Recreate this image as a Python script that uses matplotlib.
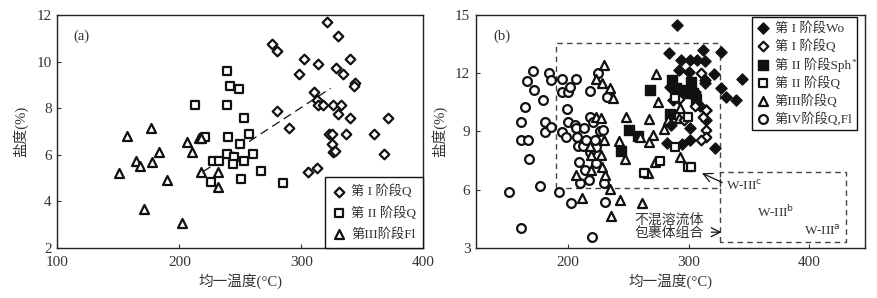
"""Salinity vs homogenization temperature, panels (a) and (b)."""

import matplotlib.pyplot as plt

plt.rcParams["font.family"] = ["Liberation Serif", "Noto Sans CJK SC"]
plt.rcParams["text.color"] = "#333333"
plt.rcParams["axes.labelcolor"] = "#333333"
plt.rcParams["xtick.color"] = "#333333"
plt.rcParams["ytick.color"] = "#333333"

# ---------------- panel (a) data ----------------
a_s1_q_t = [320.7, 330.3, 275.7, 280.3, 302.2, 339.9, 313.4, 298.1, 328.1, 334.4,
            344.0, 343.2, 310.4, 312.6, 313.9, 318.0, 326.2, 332.2, 280.3, 330.3,
            339.9, 370.7, 290.2, 322.9, 324.8, 336.8, 359.8, 325.4, 326.2, 327.6,
            368.0, 305.2, 312.6]
a_s1_q_s = [11.70, 11.10, 10.74, 10.47, 10.11, 10.11, 9.88, 9.48, 9.72, 9.48,
            9.09, 8.95, 8.69, 8.35, 8.13, 8.13, 8.13, 8.13, 7.87, 7.73,
            7.59, 7.59, 7.16, 6.87, 6.87, 6.87, 6.87, 6.44, 6.13, 6.15,
            6.01, 5.25, 5.41]

a_s2_q_t = [238.8, 241.5, 249.2, 213.1, 238.8, 253.3, 221.0, 239.9, 256.8, 249.7,
            238.8, 245.1, 260.6, 227.9, 232.3, 243.7, 253.0, 267.2, 226.2, 250.8,
            284.7]
a_s2_q_s = [9.59, 8.95, 8.80, 8.13, 8.13, 7.59, 6.77, 6.77, 6.89, 6.46,
            6.02, 5.88, 6.02, 5.72, 5.72, 5.58, 5.72, 5.29, 4.81, 4.95,
            4.79]

a_s3_fl_t = [150.8, 156.8, 164.5, 167.8, 171.1, 176.8, 177.7, 183.3, 189.6, 202.4,
             206.5, 210.1, 216.4, 218.0, 232.0, 231.4, 217.8]
a_s3_fl_s = [5.22, 6.80, 5.72, 5.52, 3.66, 7.16, 5.70, 6.13, 4.91, 3.05,
             6.56, 6.13, 6.73, 6.73, 5.24, 4.62, 5.27]

a_trend_t = [219.5, 324.0]
a_trend_s = [5.27, 8.85]

a_labels = ["第 I 阶段Q", "第 II 阶段Q", "第III阶段Fl"]

# ---------------- panel (b) data ----------------
b_s1_wo_t = [290.6, 283.5, 327.0, 294.0, 301.4, 307.2, 311.8, 313.2, 292.4, 300.6,
             320.7, 344.4, 326.4, 313.5, 313.2, 331.1, 339.4, 284.3, 287.1, 305.2,
             314.6, 314.6, 285.7, 300.8, 300.8, 321.5, 282.4, 294.8, 309.6]
b_s1_wo_s = [14.48, 13.02, 13.07, 12.68, 12.68, 12.68, 13.19, 12.65, 12.16, 12.08,
             11.96, 11.70, 11.25, 11.65, 11.51, 10.75, 10.64, 11.27, 10.62, 11.05,
             10.10, 9.58, 9.33, 9.15, 8.55, 8.15, 8.41, 8.35, 10.31]

b_s1_q_t = [309.9, 292.0, 305.2, 314.6, 311.8, 314.6, 314.6, 310.5, 296.0]
b_s1_q_s = [11.99, 10.65, 10.31, 10.10, 9.76, 9.07, 8.69, 8.55, 9.60]

b_s2_sph_t = [268.3, 286.5, 289.3, 289.8, 292.6, 302.2, 298.1, 303.6, 306.3, 284.8,
              250.7, 258.1, 244.4]
b_s2_sph_s = [11.13, 11.65, 11.22, 10.87, 11.13, 11.56, 10.96, 10.96, 10.65, 9.89,
              9.07, 8.76, 8.00]

b_s2_q_t = [288.7, 299.4, 288.7, 276.0, 262.8, 299.4, 302.2]
b_s2_q_s = [10.70, 9.76, 8.21, 7.47, 6.87, 7.18, 7.18]

b_s3_q_t = [230.0, 223.7, 228.7, 235.3, 237.5, 223.1, 227.8, 247.9, 273.3, 274.7,
            230.0, 242.1, 259.5, 267.2, 270.5, 279.3, 267.2, 247.1, 227.8, 219.6,
            228.4, 207.2, 219.6, 231.1, 212.1, 235.3, 243.0, 236.1, 261.7, 271.9,
            282.9, 292.6, 292.6, 292.0, 266.4, 218.7]
b_s3_q_s = [12.42, 11.68, 11.47, 11.22, 10.70, 9.72, 9.67, 9.72, 11.96, 10.53,
            8.55, 8.52, 8.69, 9.64, 8.81, 9.10, 8.47, 7.56, 7.78, 7.78,
            7.18, 6.75, 7.01, 6.75, 5.54, 6.01, 5.46, 4.63, 5.29, 7.44,
            9.58, 7.69, 10.19, 9.67, 6.83, 8.26]

b_s4_t = [151.5, 161.2, 171.3, 166.4, 171.9, 164.5, 161.2, 160.9, 167.2, 167.5,
          179.6, 184.3, 186.5, 181.5, 181.0, 185.9, 176.9, 192.8, 194.8, 194.8,
          200.3, 201.7, 206.6, 199.0, 200.3, 194.8, 198.3, 205.8, 206.6, 208.0,
          208.5, 212.7, 213.8, 215.4, 209.4, 214.6, 209.9, 217.4, 223.7, 203.0,
          218.7, 225.1, 218.7, 220.9, 223.7, 226.4, 229.2, 229.8, 231.1, 232.8,
          220.1, 218.2, 222.3]
b_s4_s = [5.85, 4.03, 12.11, 11.61, 11.13, 10.27, 9.50, 8.55, 8.55, 7.57,
          10.62, 12.03, 11.65, 9.50, 8.98, 9.24, 6.18, 5.85, 11.72, 11.01,
          11.01, 11.27, 11.72, 10.13, 9.50, 8.98, 8.72, 9.33, 9.15, 8.72,
          8.24, 8.24, 9.15, 8.55, 7.44, 7.01, 6.32, 6.49, 7.35, 5.29,
          11.10, 11.99, 9.76, 9.50, 8.21, 9.02, 9.07, 6.32, 5.37, 10.75,
          3.53, 7.95, 8.55]

b_labels = ["第 I 阶段Wo", "第 I 阶段Q", "第 II 阶段Sph", "第 II 阶段Q",
            "第III阶段Q", "第IV阶段Q,Fl"]

# dashed fields in panel (b)
box_c_t = [190.5, 326.0, 326.0, 190.5, 190.5]
box_c_s = [6.1, 6.1, 13.55, 13.55, 6.1]
box_ab_t = [326.0, 326.0, 430.0, 430.0, 326.0]
box_ab_s = [3.3, 6.9, 6.9, 3.3, 3.3]

BLACK = "#111111"
hollow = dict(facecolors="white", edgecolors=BLACK, linewidths=1.6)
solid = dict(facecolors=BLACK, edgecolors=BLACK, linewidths=1.0)

fig = plt.figure(figsize=(8.78, 2.98), dpi=100)
ax_a = fig.add_axes([0.0653, 0.1688, 0.4169, 0.781])
ax_b = fig.add_axes([0.5421, 0.1688, 0.4431, 0.781])

# ---- (a) ----
ax_a.plot(a_trend_t, a_trend_s, color=BLACK, lw=0.9, ls=(0, (7, 4)), zorder=1)
ax_a.scatter(a_s1_q_t, a_s1_q_s, marker="D", s=24, label=a_labels[0], zorder=3, **hollow)
ax_a.scatter(a_s2_q_t, a_s2_q_s, marker="s", s=40, label=a_labels[1], zorder=3, **hollow)
ax_a.scatter(a_s3_fl_t, a_s3_fl_s, marker="^", s=42, label=a_labels[2], zorder=3, **hollow)
ax_a.set_xlim(100, 400)
ax_a.set_ylim(2, 12)
ax_a.set_xticks([100, 200, 300, 400])
ax_a.set_yticks([2, 4, 6, 8, 10, 12])
ax_a.text(0.045, 0.91, "(a)", transform=ax_a.transAxes, fontsize=10.5, va="center")
ax_a.legend(loc="lower right", borderaxespad=0, fancybox=False,
            edgecolor=BLACK, framealpha=1, fontsize=9.5,
            handletextpad=0.4, borderpad=0.55, labelspacing=0.6,
            handlelength=1.0)

# ---- (b) ----
ax_b.plot(box_c_t, box_c_s, color="#444444", lw=1.0, ls=(0, (4, 3)), zorder=1)
ax_b.plot(box_ab_t, box_ab_s, color="#444444", lw=1.0, ls=(0, (4, 3)), zorder=1)
ax_b.scatter(b_s1_wo_t, b_s1_wo_s, marker="D", s=32, label=b_labels[0], zorder=4, **solid)
ax_b.scatter(b_s1_q_t, b_s1_q_s, marker="D", s=24, label=b_labels[1], zorder=4, **hollow)
ax_b.scatter(b_s2_sph_t, b_s2_sph_s, marker="s", s=48, label=b_labels[2], zorder=3, **solid)
ax_b.scatter(b_s2_q_t, b_s2_q_s, marker="s", s=40, label=b_labels[3], zorder=4, **hollow)
ax_b.scatter(b_s3_q_t, b_s3_q_s, marker="^", s=42, label=b_labels[4], zorder=3, **hollow)
ax_b.scatter(b_s4_t, b_s4_s, marker="o", s=40, label=b_labels[5], zorder=2, **hollow)
ax_b.set_xlim(124, 446)
ax_b.set_ylim(3, 15)
ax_b.set_xticks([200, 300, 400])
ax_b.set_yticks([3, 6, 9, 12, 15])
ax_b.text(0.045, 0.91, "(b)", transform=ax_b.transAxes, fontsize=10.5, va="center")

arrow = dict(arrowstyle="->", color=BLACK, lw=0.9, mutation_scale=16)
ax_b.annotate("", xy=(309, 6.9), xytext=(330, 6.3), arrowprops=arrow)
ax_b.text(331, 6.2, "W-III$^{\\mathrm{c}}$", fontsize=9.5, va="center", ha="left")
ax_b.text(372, 4.86, "W-III$^{\\mathrm{b}}$", fontsize=9.5, va="center", ha="center")
ax_b.text(411, 3.86, "W-III$^{\\mathrm{a}}$", fontsize=9.5, va="center", ha="center")
ax_b.text(284, 4.42, "不混溶流体", fontsize=10, va="center", ha="center")
ax_b.text(284, 3.74, "包裹体组合", fontsize=10, va="center", ha="center")
ax_b.annotate("", xy=(329.5, 3.8), xytext=(316.5, 3.8), arrowprops=arrow)

leg_b = ax_b.legend(loc="upper right", bbox_to_anchor=(0.98, 0.99), borderaxespad=0,
                    fancybox=False, edgecolor=BLACK, framealpha=1, fontsize=9.5,
                    handletextpad=0.4, borderpad=0.35, labelspacing=0.33,
                    handlelength=1.0)

for ax in (ax_a, ax_b):
    ax.tick_params(direction="in", length=3, width=0.8, labelsize=11,
                   top=False, right=False, pad=4)
    ax.tick_params(axis="x", pad=6)
    for sp in ax.spines.values():
        sp.set_linewidth(1.0)
        sp.set_color("#222222")
    ax.set_xlabel("均一温度(°C)", fontsize=10.5, labelpad=3)
    ax.set_ylabel("盐度(%)", fontsize=10.5, labelpad=6)

# superscript asterisk after "Sph" in legend (b)
fig.canvas.draw()
sph_text = leg_b.get_texts()[2]
bb = sph_text.get_window_extent()
fig.text(bb.x1 + 0.5, bb.y1 - 2, "*", fontsize=6.5, va="top", ha="left",
         transform=None, color="#333333")

fig.savefig("out.png", dpi=100)
